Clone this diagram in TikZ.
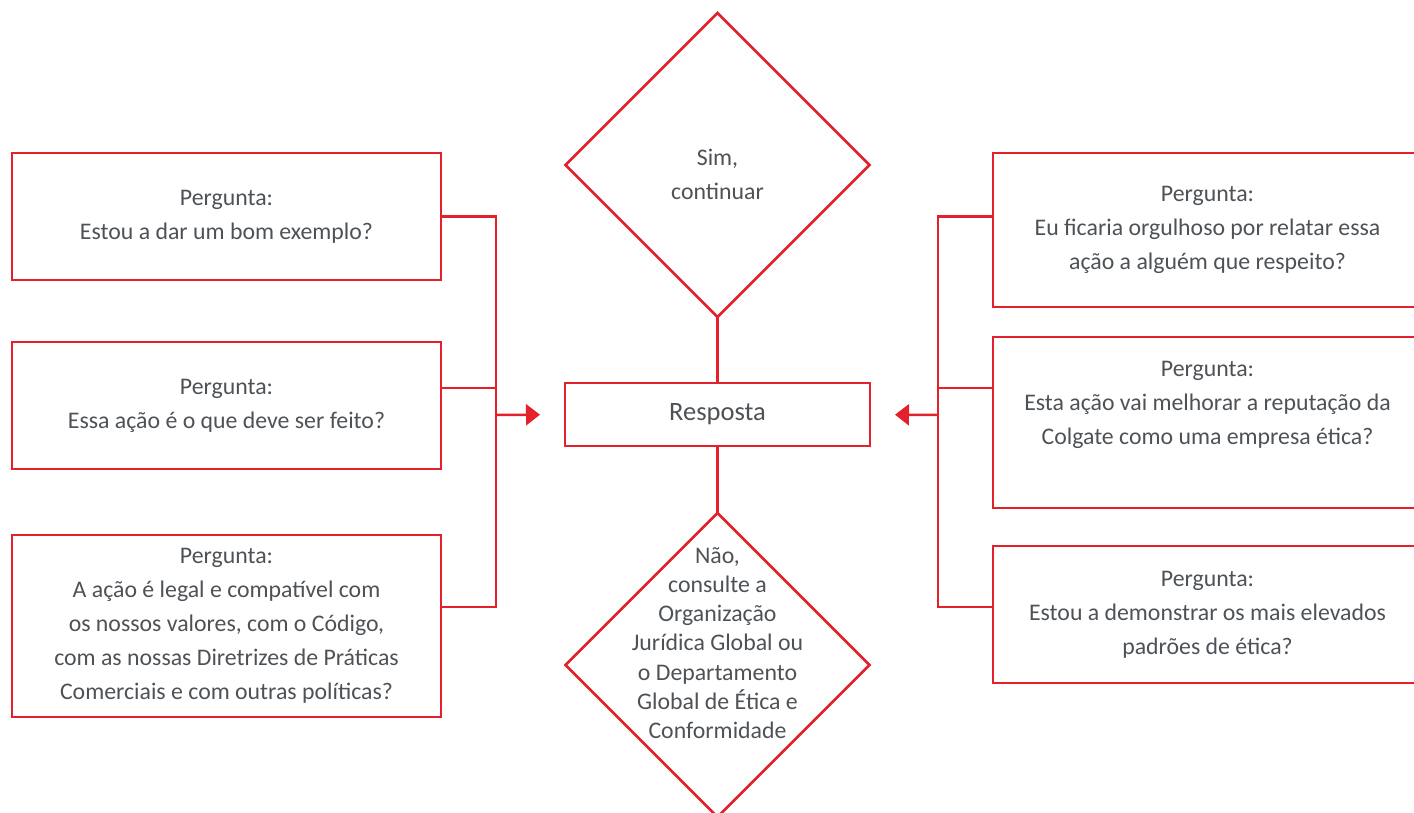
\documentclass[tikz,border=0pt]{standalone}
\usepackage{fontspec}
\setmainfont{Carlito}
\usepackage{tikz}
\usetikzlibrary{calc,positioning,shapes.geometric,arrows.meta}
\definecolor{colred}{HTML}{E4202A}
\definecolor{txtgray}{HTML}{4D5257}
\tikzstyle{pergunta} = [rectangle, draw=colred, line width=2.5pt, text=txtgray, align=center, minimum width=429pt, outer sep=0pt, font=\fontsize{23.8}{34}\selectfont]
\tikzstyle{decisao} = [diamond, draw=colred, line width=2.5pt, minimum width=304pt, minimum height=304pt, inner sep=0pt, outer sep=0pt]
\tikzstyle{resposta} = [rectangle, draw=colred, line width=2.5pt, text=txtgray, minimum width=305pt, minimum height=63pt, outer sep=0pt, font=\fontsize{26.5}{30}\selectfont]
\tikzstyle{rotulo} = [text=txtgray, align=center, font=\fontsize{23.8}{34}\selectfont]
\tikzstyle{linha} = [draw=colred, line width=2.5pt]
\tikzstyle{seta} = [draw=colred, line width=2.5pt, -{Triangle[length=14pt,width=21pt]}, shorten >=25pt]

\begin{document}
\begin{tikzpicture}[x=1pt, y=1pt]
            \useasboundingbox (0,0) rectangle (1414,-813);
            \clip (0,0) rectangle (1414,-813);
            % centre
            \node (resp) [resposta] at (717.5,-414.5) {Resposta};
            \node (sim) [decisao, above=66pt of resp] {};
            \node (simtxt) [rotulo, yshift=-9pt] at (sim) {Sim,\\continuar};
            \node (nao) [decisao, below=67pt of resp] {};
            \node (naotxt) [rotulo, font=\fontsize{23.8}{29.2}\selectfont, yshift=22pt] at (nao) {N\~ao,\\consulte a\\Organiza\c{c}\~ao\\Jur\'idica Global ou\\o Departamento\\Global de \'Etica e\\Conformidade};
            % left column
            \node (q1) [pergunta, minimum height=127pt] at (226.5,-216.5) {Pergunta:\\Estou a dar um bom exemplo?};
            \node (q2) [pergunta, minimum height=127pt, below=62pt of q1] {Pergunta:\\Essa a\c{c}\~ao \'e o que deve ser feito?};
            \node (q3) [pergunta, minimum height=182pt, below=66pt of q2] {Pergunta:\\A a\c{c}\~ao \'e legal e compat\'ivel com\\os nossos valores, com o C\'odigo,\\com as nossas Diretrizes de Pr\'aticas\\Comerciais e com outras pol\'iticas?};
            % right column
            \node (q4) [pergunta, minimum height=154pt] at (1207.5,-230) {Pergunta:\\Eu ficaria orgulhoso por relatar essa\\a\c{c}\~ao a algu\'em que respeito?};
            \node (q5) [pergunta, minimum height=171pt, text depth=40pt, below=30pt of q4] {Pergunta:\\Esta a\c{c}\~ao vai melhorar a reputa\c{c}\~ao da\\Colgate como uma empresa \'etica?};
            \node (q6) [pergunta, minimum height=137pt, below=38pt of q5] {Pergunta:\\Estou a demonstrar os mais elevados\\padr\~oes de \'etica?};
            \coordinate (jl) at (496,-415);
            \coordinate (jr) at (938,-415);
            \draw [linha] (q1.east) -| (jl);
            \draw [linha] ([yshift=17.5pt]q2.east) -| (jl);
            \draw [linha] ([yshift=19pt]q3.east) -| (jl);
            \draw [seta] (jl) -- (resp.west);
            \draw [linha] (q4.west |- q1.east) -| (jr);
            \draw [linha] ([yshift=34.5pt]q5.west) -| (jr);
            \draw [linha] ([yshift=7.5pt]q6.west) -| (jr);
            \draw [seta] (jr) -- (resp.east);
            \draw [linha] (sim) -- (resp);
            \draw [linha] (resp) -- (nao);
        \end{tikzpicture}
\end{document}
